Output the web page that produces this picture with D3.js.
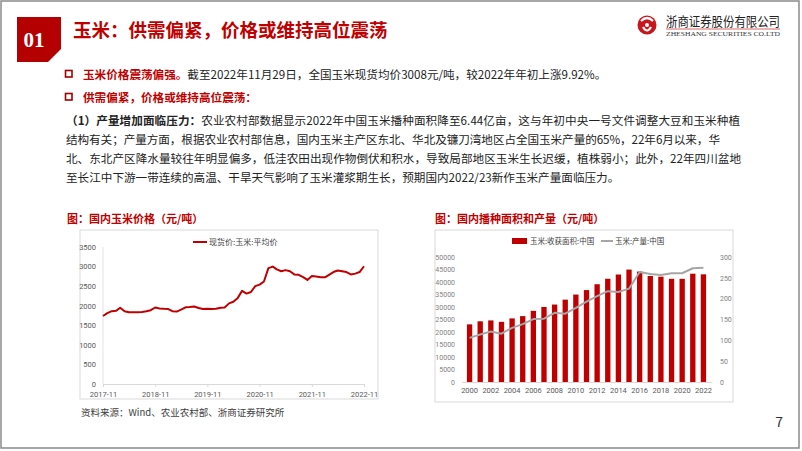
<!DOCTYPE html>
<html>
<head>
<meta charset="utf-8">
<script src="https://cdn.jsdelivr.net/npm/d3@7"></script>
<style>
  html, body { margin: 0; padding: 0; background: #fff; }
  svg { display: block; font-family: "Noto Sans CJK SC", "Noto Sans", sans-serif; }
</style>
</head>
<body>
<div id="chart"></div>
<script>
// corn spot price, monthly, 2017-11 .. 2022-11 (yuan/ton)
const priceStart = '2017-11';
const priceValues = [1737, 1810, 1860, 1870, 1950, 1860, 1835, 1830, 1830, 1840, 1860, 1885,
  1955, 1930, 1920, 1915, 1860, 1850, 1900, 1960, 1965, 1980, 1940, 1915,
  1920, 1915, 1925, 1950, 1955, 2060, 2100, 2200, 2380, 2310, 2350, 2500,
  2540, 2620, 2960, 3000, 2930, 2880, 2910, 2880, 2800, 2790, 2730, 2660,
  2760, 2745, 2730, 2725, 2790, 2860, 2900, 2880, 2860, 2800, 2820, 2860, 3008];
const priceTicks = ['2017-11', '2018-11', '2019-11', '2020-11', '2021-11', '2022-11'];
const priceYTicks = [0, 500, 1000, 1500, 2000, 2500, 3000, 3500];

// harvest area (left axis) and output (right axis), 2000 .. 2022
const years = ['2000', '2001', '2002', '2003', '2004', '2005', '2006', '2007', '2008', '2009', '2010', '2011',
  '2012', '2013', '2014', '2015', '2016', '2017', '2018', '2019', '2020', '2021', '2022'];
const areaValues = [23056, 24282, 24634, 24068, 25446, 26358, 28463, 30024, 30981, 32948, 34977, 36767,
  39109, 41299, 42997, 44968, 44178, 42399, 42130, 41284, 41264, 43324, 43070];
const outputValues = [106, 114, 121, 116, 130, 139, 151, 152, 166, 164, 178, 193,
  206, 218, 216, 224, 264, 259, 257, 261, 261, 273, 274];
const areaTicks = [0, 5000, 10000, 15000, 20000, 25000, 30000, 35000, 40000, 45000, 50000];
const outputTicks = [0, 50, 100, 150, 200, 250, 300];
const yearLabels = ['2000', '2002', '2004', '2006', '2008', '2010', '2012', '2014', '2016', '2018', '2020', '2022'];

const RED = '#c00000';
const TICK = '#595959';

const svg = d3.select('#chart')
    .append('svg')
    .attr('width', 802)
    .attr('height', 451);

// slide frame
svg.append('rect')
    .attr('x', 1).attr('y', 1).attr('width', 798).attr('height', 447)
    .attr('fill', '#fff').attr('stroke', '#8a8a8a').attr('stroke-width', 1.5);

// header block
svg.append('polygon')
    .attr('points', '17,17 61,17 61,49 48,62 17,62')
    .attr('fill', '#b40000');
svg.append('text')
    .attr('x', 34).attr('y', 47)
    .attr('text-anchor', 'middle')
    .attr('fill', '#fff')
    .style('font-family', '"Liberation Serif", serif')
    .style('font-weight', 'bold')
    .style('font-size', '21px')
    .text('01');
svg.append('text')
    .attr('x', 73).attr('y', 37)
    .attr('fill', RED)
    .style('font-weight', 'bold')
    .style('font-size', '18.5px')
    .text('玉米：供需偏紧，价格或维持高位震荡');

// logo
const logo = svg.append('g');
logo.append('circle').attr('cx', 647).attr('cy', 25).attr('r', 9.5).attr('fill', '#c8161d');
logo.append('path')
    .attr('d', 'M641,21 Q647,15 653,21 M643,27 Q647,34 651,27')
    .attr('fill', 'none').attr('stroke', '#fff').attr('stroke-width', 2.2);
logo.append('circle').attr('cx', 647).attr('cy', 25).attr('r', 2).attr('fill', '#fff');
logo.append('text')
    .attr('x', 666).attr('y', 26)
    .attr('textLength', 114).attr('lengthAdjust', 'spacingAndGlyphs')
    .attr('fill', '#222')
    .style('font-size', '13px')
    .text('浙商证券股份有限公司');
logo.append('line')
    .attr('x1', 666).attr('x2', 780).attr('y1', 29).attr('y2', 29)
    .attr('stroke', '#d04040').attr('stroke-width', 0.8);
logo.append('text')
    .attr('x', 666).attr('y', 36)
    .attr('textLength', 114).attr('lengthAdjust', 'spacingAndGlyphs')
    .attr('fill', '#333')
    .style('font-family', '"Liberation Serif", serif')
    .style('font-size', '6.5px')
    .text('ZHESHANG SECURITIES CO.LTD');

// bullets and paragraph
const bodySize = '11.6px';
function bullet(y) {
    svg.append('rect')
        .attr('x', 65.5).attr('y', y - 8.5).attr('width', 6.5).attr('height', 6.5)
        .attr('fill', 'none').attr('stroke', '#a00000').attr('stroke-width', 1.6);
}
bullet(79);
const b1 = svg.append('text').attr('x', 83).attr('y', 79).style('font-size', bodySize);
b1.append('tspan').attr('fill', RED).style('font-weight', 'bold').text('玉米价格震荡偏强。');
b1.append('tspan').attr('fill', '#222').text('截至2022年11月29日，全国玉米现货均价3008元/吨，较2022年年初上涨9.92%。');

bullet(102);
svg.append('text').attr('x', 83).attr('y', 102).style('font-size', bodySize)
    .attr('fill', RED).style('font-weight', 'bold')
    .text('供需偏紧，价格或维持高位震荡：');

const paraLines = [
  { y: 125, w: 674, bold: '（1）产量增加面临压力：', text: '农业农村部数据显示2022年中国玉米播种面积降至6.44亿亩，这与年初中央一号文件调整大豆和玉米种植' },
  { y: 144, w: 654, bold: '', text: '结构有关；产量方面，根据农业农村部信息，国内玉米主产区东北、华北及镰刀湾地区占全国玉米产量的65%，22年6月以来，华' },
  { y: 163, w: 675, bold: '', text: '北、东北产区降水量较往年明显偏多，低洼农田出现作物倒伏和积水，导致局部地区玉米生长迟缓，植株弱小；此外，22年四川盆地' },
  { y: 182, w: null, bold: '', text: '至长江中下游一带连续的高温、干旱天气影响了玉米灌浆期生长，预期国内2022/23新作玉米产量面临压力。' }
];
paraLines.forEach(l => {
    const t = svg.append('text').attr('x', 66).attr('y', l.y).style('font-size', bodySize).attr('fill', '#222');
    if (l.w) t.attr('textLength', l.w).attr('lengthAdjust', 'spacing');
    if (l.bold) t.append('tspan').style('font-weight', 'bold').text(l.bold);
    t.append('tspan').text(l.text);
});

// ---------- left chart: price ----------
svg.append('text')
    .attr('x', 67).attr('y', 223)
    .attr('fill', RED).style('font-weight', 'bold').style('font-size', '11px')
    .text('图：国内玉米价格（元/吨）');
svg.append('rect')
    .attr('x', 80).attr('y', 230).attr('width', 298).attr('height', 169)
    .attr('fill', '#fff').attr('stroke', '#d9d9d9').attr('stroke-width', 1);

const parseMonth = d3.timeParse('%Y-%m');
const t0 = parseMonth(priceStart);
const priceData = priceValues.map((v, i) => ({ date: d3.timeMonth.offset(t0, i), value: v }));

const x1 = d3.scaleTime()
    .domain([parseMonth(priceTicks[0]), parseMonth(priceTicks[priceTicks.length - 1])])
    .range([103, 364]);
const y1 = d3.scaleLinear().domain([0, 3500]).range([384, 247]);

const g1 = svg.append('g');
g1.append('line')
    .attr('x1', 103).attr('x2', 103).attr('y1', 247).attr('y2', 384)
    .attr('stroke', '#e3e3e3');
g1.append('g')
    .attr('transform', 'translate(0,384)')
    .call(d3.axisBottom(x1).tickValues(priceTicks.map(parseMonth)).tickFormat(d3.timeFormat('%Y-%m')).tickSize(3).tickSizeOuter(0))
    .call(a => a.select('.domain').attr('stroke', '#d9d9d9'))
    .call(a => a.selectAll('.tick line').attr('stroke', '#d9d9d9'))
    .call(a => a.selectAll('.tick text').attr('fill', TICK).attr('dy', '0.9em').style('font-size', '7.5px').style('font-family', 'Roboto, sans-serif'));
const y1Axis = g1.append('g')
    .attr('class', 'axis axis--y')
    .attr('transform', 'translate(98,0)')
    .call(d3.axisLeft(y1).tickValues(priceYTicks).tickSize(0).tickPadding(2).tickFormat(d => String(d)));
y1Axis.select('.domain').remove();
y1Axis.selectAll('text')
    .attr('fill', TICK)
    .style('font-size', '7.5px')
    .style('font-family', 'Roboto, sans-serif');

g1.append('path')
    .datum(priceData)
    .attr('fill', 'none')
    .attr('stroke', RED)
    .attr('stroke-width', 2)
    .attr('stroke-linejoin', 'round')
    .attr('d', d3.line().x(d => x1(d.date)).y(d => y1(d.value)));

g1.append('line').attr('x1', 193).attr('x2', 207).attr('y1', 242).attr('y2', 242)
    .attr('stroke', RED).attr('stroke-width', 2);
g1.append('text').attr('x', 209).attr('y', 245).attr('fill', '#404040').style('font-size', '8px')
    .text('现货价:玉米:平均价');

svg.append('text')
    .attr('x', 81).attr('y', 416)
    .attr('fill', '#404040').style('font-size', '9.5px')
    .text('资料来源：Wind、农业农村部、浙商证券研究所');

// ---------- right chart: area and output ----------
svg.append('text')
    .attr('x', 435).attr('y', 223)
    .attr('fill', RED).style('font-weight', 'bold').style('font-size', '11px')
    .text('图：国内播种面积和产量（元/吨）');
svg.append('rect')
    .attr('x', 435).attr('y', 230).attr('width', 298).attr('height', 172)
    .attr('fill', '#fff').attr('stroke', '#d9d9d9').attr('stroke-width', 1);

const x2 = d3.scaleBand().domain(years).range([461.6, 711.4]).padding(0.5);
const y2 = d3.scaleLinear().domain([0, 50000]).range([382, 257]);
const y3 = d3.scaleLinear().domain([0, 300]).range([382, 257]);

const g2 = svg.append('g');
g2.selectAll('.bar')
    .data(years)
    .enter().append('rect')
    .attr('class', 'bar')
    .attr('x', d => x2(d))
    .attr('width', x2.bandwidth())
    .attr('y', (d, i) => y2(areaValues[i]))
    .attr('height', (d, i) => y2(0) - y2(areaValues[i]))
    .attr('fill', RED);

g2.append('g')
    .attr('transform', 'translate(0,382)')
    .call(d3.axisBottom(x2).tickValues(yearLabels).tickSize(0).tickSizeOuter(0))
    .call(a => a.select('.domain').attr('stroke', '#d9d9d9'))
    .call(a => a.selectAll('.tick text').attr('fill', TICK).attr('dy', '1.1em').style('font-size', '7.5px').style('font-family', 'Roboto, sans-serif'));
g2.append('g')
    .attr('transform', 'translate(458,0)')
    .call(d3.axisLeft(y2).tickValues(areaTicks).tickSize(0).tickFormat(d => String(d)))
    .call(a => a.select('.domain').remove())
    .call(a => a.selectAll('.tick text').attr('fill', '#7f7f7f').style('font-size', '7px').style('font-family', 'Roboto, sans-serif'));
g2.append('g')
    .attr('transform', 'translate(717,0)')
    .call(d3.axisRight(y3).tickValues(outputTicks).tickSize(0))
    .call(a => a.select('.domain').remove())
    .call(a => a.selectAll('.tick text').attr('fill', '#7f7f7f').style('font-size', '7px').style('font-family', 'Roboto, sans-serif'));

g2.append('path')
    .datum(outputValues)
    .attr('fill', 'none')
    .attr('stroke', '#a6a6a6')
    .attr('stroke-width', 2)
    .attr('stroke-linejoin', 'round')
    .attr('d', d3.line().x((d, i) => x2(years[i]) + x2.bandwidth() / 2).y(d => y3(d)));

g2.append('rect').attr('x', 512).attr('y', 238).attr('width', 15).attr('height', 6).attr('fill', RED);
g2.append('text').attr('x', 530).attr('y', 244).attr('fill', '#404040').style('font-size', '7.5px')
    .text('玉米:收获面积:中国');
g2.append('line').attr('x1', 601).attr('x2', 613).attr('y1', 241).attr('y2', 241)
    .attr('stroke', '#a6a6a6').attr('stroke-width', 2);
g2.append('text').attr('x', 615).attr('y', 244).attr('fill', '#404040').style('font-size', '7.5px')
    .text('玉米:产量:中国');

// page number
svg.append('text')
    .attr('x', 783).attr('y', 427)
    .attr('text-anchor', 'end')
    .attr('fill', '#333').style('font-size', '14px')
    .text('7');
</script>
</body>
</html>
